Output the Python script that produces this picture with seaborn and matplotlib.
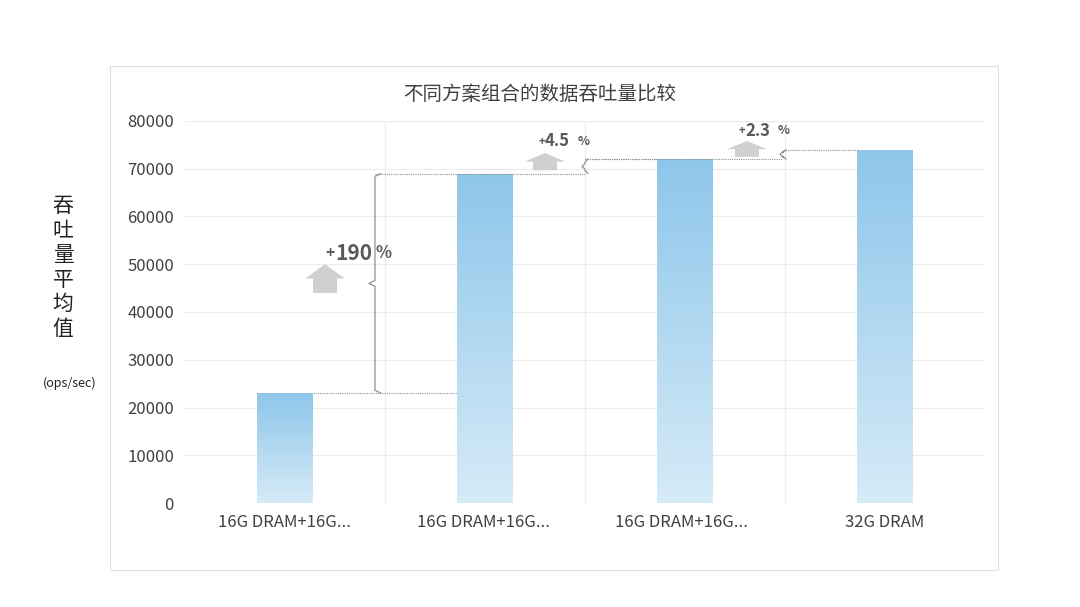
import numpy as np
import matplotlib.pyplot as plt
import matplotlib.patches as mpatches
import pandas as pd
import seaborn as sns

categories = ['16G DRAM+16G...', '16G DRAM+16G... ', '16G DRAM+16G...  ', '32G DRAM']
values = [23000, 69000, 72000, 74000]
gains = ['190', '4.5', '2.3']
yticks = [0, 10000, 20000, 30000, 40000, 50000, 60000, 70000, 80000]

sns.set_theme(style='white')
plt.rcParams['font.family'] = ['Noto Sans CJK SC', 'DejaVu Sans']

fig = plt.figure(figsize=(10.8, 6.07), dpi=100)
fig.patches.append(mpatches.Rectangle((110/1080, 0.061), 888/1080, 0.83, transform=fig.transFigure,
                                      fill=False, edgecolor='#e0e0e0', lw=0.8))
ax = fig.add_axes([185/1080, 104/607, 800/1080, 382/607])

df = pd.DataFrame({'cat': categories, 'val': values})
sns.barplot(data=df, x='cat', y='val', ax=ax, width=0.28, color='#a9d3ef')

# gradient fill on each bar
grad = np.linspace(0, 1, 256).reshape(-1, 1)
from matplotlib.colors import LinearSegmentedColormap
cmap = LinearSegmentedColormap.from_list('g', ['#d6ebf8', '#8ec6ea'])
for p in ax.patches:
    x0, y0, w, h = p.get_x(), p.get_y(), p.get_width(), p.get_height()
    im = ax.imshow(grad, extent=(x0, x0 + w, y0, y0 + h), origin='lower', cmap=cmap,
                   aspect='auto', zorder=3)
    im.set_clip_path(p)
    p.set_alpha(0)

ax.set_xlim(-0.5, 3.5)
ax.set_ylim(0, 80000)
ax.set_yticks(yticks)
ax.set_yticklabels([str(t) for t in yticks], fontsize=12, color='#404040')
ax.tick_params(axis='x', labelsize=12, labelcolor='#404040', length=0, pad=8)
ax.tick_params(axis='y', length=0, pad=8)
for t in yticks[1:]:
    ax.axhline(t, color='#ececec', lw=0.8, zorder=0)
for xv in [0.5, 1.5, 2.5]:
    ax.axvline(xv, color='#ececec', lw=0.8, zorder=0)
for s in ax.spines.values():
    s.set_visible(False)
ax.axhline(0, color='#d9d9d9', lw=0.8)
ax.set_xlabel('')
ax.set_ylabel('')

fig.text(0.5, 0.845, '不同方案组合的数据吞吐量比较', ha='center', va='center', fontsize=14, color='#404040')
fig.text(63/1080, 0.44, '吞\n吐\n量\n平\n均\n值', ha='center', va='bottom', fontsize=15,
         color='#222222', linespacing=1.15)
fig.text(70/1080, (607-383)/607, '(ops/sec)', ha='center', va='center', fontsize=9, color='#222222')


def brace(xb, ylo, yhi, wd=0.04):
    ym = (ylo + yhi) / 2
    xs = [xb + wd/2, xb, xb, xb - wd/2, xb, xb, xb + wd/2]
    ys = [ylo, ylo + 600, ym - 600, ym, ym + 600, yhi - 600, yhi]
    ax.plot(xs, ys, color='#909090', lw=0.9, zorder=4, clip_on=False)


dot = dict(color='#909090', lw=0.8, ls=(0, (1, 1)), zorder=4, clip_on=False)
ax.plot([0.14, 0.86], [values[0]] * 2, **dot)
ax.plot([0.45, 1.5], [values[1]] * 2, **dot)
ax.plot([1.5, 1.86], [values[2]] * 2, **dot)
ax.plot([1.5, 2.49], [values[2]] * 2, **dot)
ax.plot([2.49, 2.86], [values[3]] * 2, **dot)
brace(0.45, values[0], values[1], 0.06)
brace(1.5, values[1], values[2], 0.03)
brace(2.49, values[2], values[3], 0.03)

arrows = [(0.2, 44000, 6000, 0.12, 0.2, 3000), (1.3, 69700, 3600, 0.12, 0.2, 1800),
          (2.31, 72500, 3300, 0.12, 0.2, 1700)]
for (x, y, dy, w, hw, hl) in arrows:
    ax.add_patch(mpatches.FancyArrow(x, y, 0, dy, width=w, head_width=hw, head_length=hl,
                                     length_includes_head=True, color='#d0d0d0', lw=0,
                                     zorder=5, clip_on=False))
labels_pos = [(0.25, 52300, 15), (1.3, 75800, 12), (2.3, 78000, 12)]
for g, (x, y, fs) in zip(gains, labels_pos):
    ax.text(x, y, '+', ha='right', va='center', fontsize=fs - 4, color='#595959', clip_on=False,
            fontweight='bold', transform=ax.transData)
    ax.text(x, y, g, ha='left', va='center', fontsize=fs, color='#595959', fontweight='bold', clip_on=False)
    ax.annotate('%', (x, y), xytext=(fs * len(g) * 0.62 + 1, 0), textcoords='offset points',
                ha='left', va='center', fontsize=fs - 3, color='#595959', fontweight='bold')

fig.savefig('out.png', dpi=100)
